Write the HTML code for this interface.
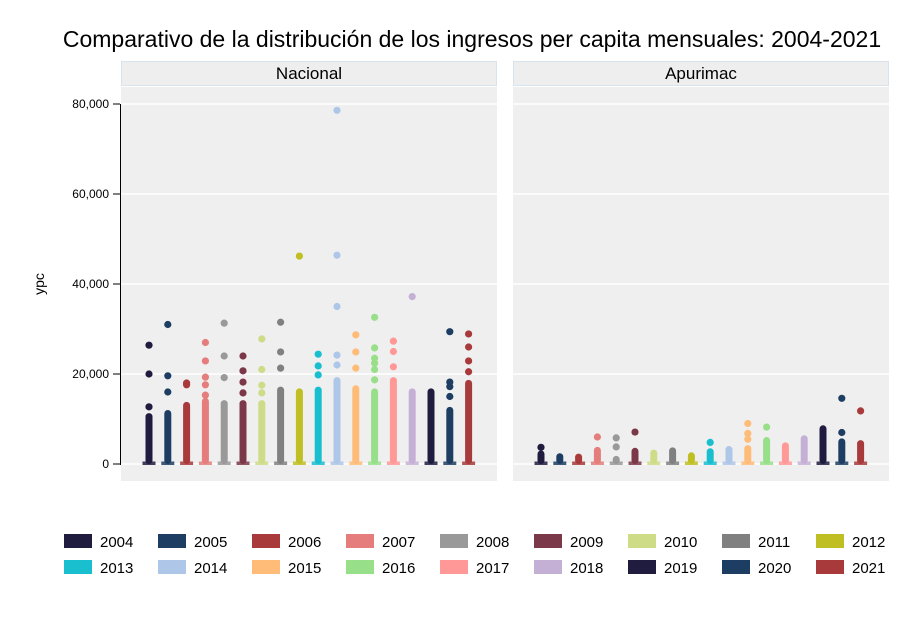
<!DOCTYPE html>
<html><head><meta charset="utf-8"><style>
body{margin:0;background:#fff;width:919px;height:613px;overflow:hidden;font-family:"Liberation Sans",sans-serif}
</style></head><body>
<svg id="c" width="919" height="613" xmlns="http://www.w3.org/2000/svg" font-family="Liberation Sans, sans-serif">
<text x="472" y="47" font-size="23" text-anchor="middle" fill="#000">Comparativo de la distribución de los ingresos per capita mensuales: 2004-2021</text>
<text transform="translate(44,284) rotate(-90)" font-size="14" text-anchor="middle">ypc</text>
</svg>
<script>
const years=['2004','2005','2006','2007','2008','2009','2010','2011','2012','2013','2014','2015','2016','2017','2018','2019','2020','2021'];
const colors=['#1f1c3f','#1d3e62','#a83a3b','#e47d7b','#999999','#7b3848','#cfdc87','#808080','#bfbf24','#19becf','#aec7e8','#ffbb78','#98df8a','#ff9896','#c5b0d5','#1f1c3f','#1d3e62','#a83a3b'];
const yTicks=[0,20000,40000,60000,80000];
const panels=['Nacional','Apurimac'];
const natTop=[11300,12000,13800,14700,14200,14200,14200,17200,16800,17200,19300,17500,16800,19300,16800,16800,12700,18700];
const natOut=[[12700,20000,26400],[16000,19600,31000],[17600,18000],[15300,17600,19300,22900,27000],[19200,24000,31300],[15800,18200,20700,24000],[15800,17500,21000,27800],[21300,24900,31500],[46200],[19800,21800,24400],[22000,24200,35000,46400,78600],[21300,24900,28700],[18700,21000,22400,23500,25800,32600],[21600,25000,27300],[37200],[],[15000,17200,18200,29400],[20500,22900,26000,28900]];
const apuTop=[3000,2400,2300,3800,1800,3600,3200,3700,2600,3500,4000,4200,6000,4800,6400,8600,5700,5300];
const apuOut=[[3700],[],[],[6000],[3800,5800],[7100],[],[],[],[4800],[],[5500,6800,9000],[8200],[],[],[],[7000,14600],[11800]];
const svg=document.getElementById('c');const NS='http://www.w3.org/2000/svg';
function mk(t,a,p){const e=document.createElementNS(NS,t);for(const k in a)e.setAttribute(k,a[k]);(p||svg).appendChild(e);return e;}
const y=v=>464-v*360/80000;
const px=[[121,497],[513,889]];
const first=[149,541],step=18.8;
panels.forEach((p,pi)=>{
  const g=mk('g',{});
  
  
  const [x0,x1]=px[pi];
  const s=mk('rect',{x:x0+0.5,y:61.5,width:x1-x0-1,height:24,fill:'#eeeeee',stroke:'#d8e3ec'},g);
  
  
  const t=mk('text',{x:(x0+x1)/2,y:79,'font-size':17,'text-anchor':'middle'},g);t.textContent=p;
  
  
  mk('rect',{x:x0,y:87,width:x1-x0,height:394,fill:'#efefef'},g);
  yTicks.forEach(v=>{const l=mk('line',{x1:x0,x2:x1,y1:y(v),y2:y(v),stroke:'#fff','stroke-width':1.5},g);
    
    });
  const tops=pi?apuTop:natTop,outs=pi?apuOut:natOut;
  years.forEach((yr,i)=>{
    const cx=first[pi]+i*step,c=colors[i];
    const b=mk('g',{},g);
    
    
    mk('rect',{x:cx-3.5,y:y(tops[i]),width:7,height:y(0)-y(tops[i]),rx:3.5,fill:c},b);
    mk('rect',{x:cx-6.5,y:y(0)-2.5,width:13,height:3.5,fill:c,opacity:0.85},b);
    outs[i].forEach(v=>{const d=mk('circle',{cx:cx,cy:y(v),r:3.6,fill:c},b);
      
      });
  });
});
mk('line',{x1:120.5,x2:120.5,y1:104,y2:465,stroke:'#000'});
yTicks.forEach(v=>{
  mk('line',{x1:113,x2:120,y1:y(v),y2:y(v),stroke:'#000'});
  const t=mk('text',{x:109,y:y(v)+4,'font-size':12,'text-anchor':'end'});t.textContent=v.toLocaleString('en-US');
  
  
});
years.forEach((yr,i)=>{
  const col=i%9,row=Math.floor(i/9),lx=64+col*94,ly=534+row*26;
  const g=mk('g',{});
  
  
  mk('rect',{x:lx,y:ly,width:28,height:14,fill:colors[i]},g);
  const t=mk('text',{x:lx+36,y:ly+13,'font-size':15},g);t.textContent=yr;
});
</script>
</body></html>
